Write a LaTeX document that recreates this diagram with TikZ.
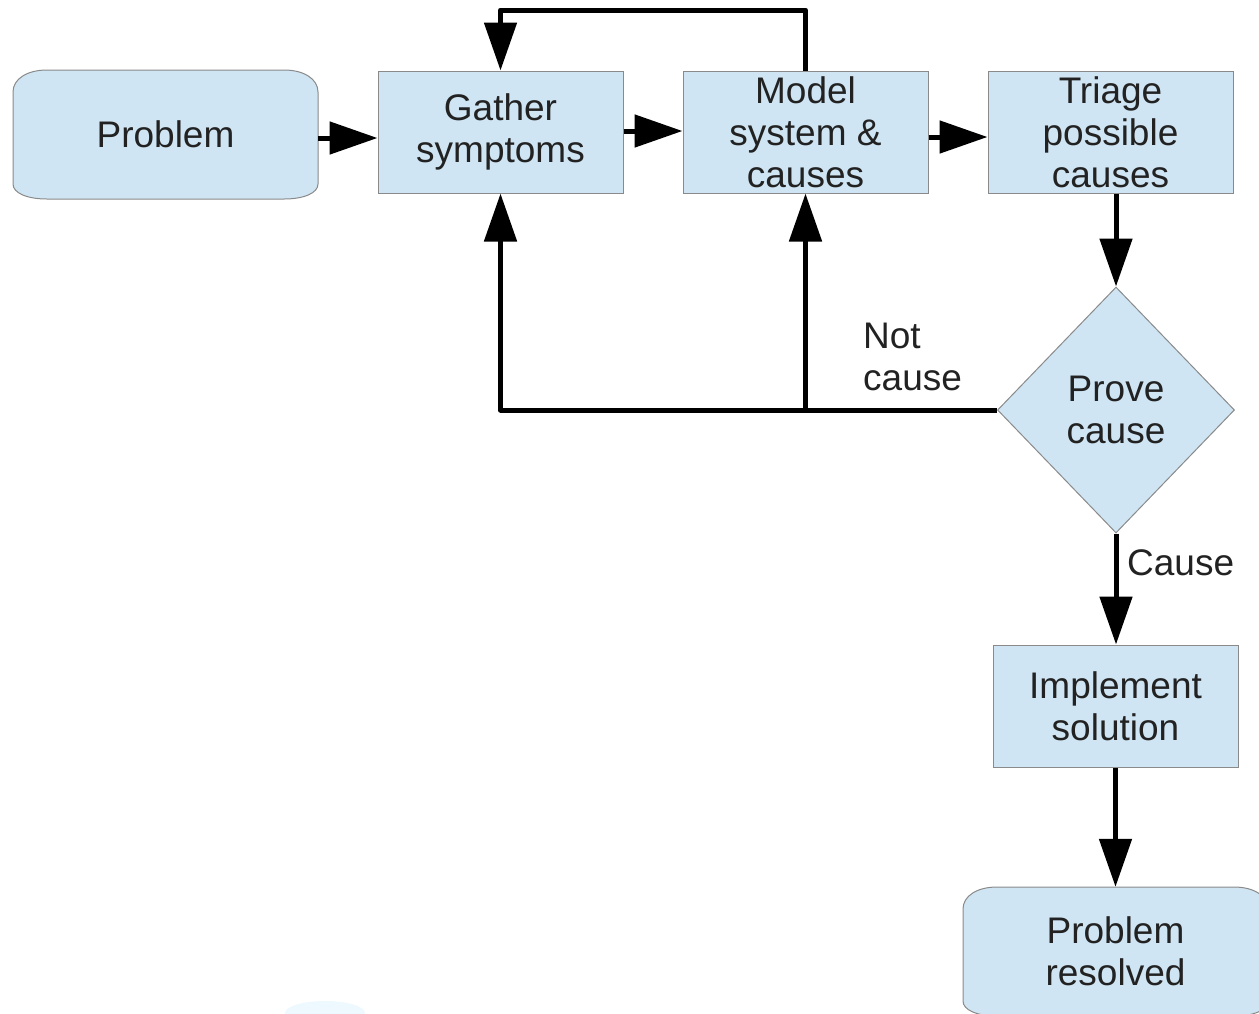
\documentclass[tikz,border=0pt]{standalone}
\usepackage{fontspec}
\setmainfont{Liberation Sans}
\usetikzlibrary{arrows.meta,shapes.geometric,backgrounds,calc}

\definecolor{boxfill}{HTML}{CFE5F3}
\definecolor{boxline}{HTML}{8A8A8A}
\definecolor{ink}{HTML}{222222}

% Terminator outline: x1, top y, x2, bottom y (pixel-style coordinates)
\newcommand\termoutline[4]{%
  \path[termfill] (#1+34,#2) -- (#3-34,#2)
    .. controls (#3-14,#2) and (#3,#2+9) .. (#3,#2+22)
    -- (#3,#4-15)
    .. controls (#3,#4-6) and (#3-14,#4) .. (#3-34,#4)
    -- (#1+34,#4)
    .. controls (#1+14,#4) and (#1,#4-6) .. (#1,#4-15)
    -- (#1,#2+22)
    .. controls (#1,#2+9) and (#1+14,#2) .. cycle;}

\tikzset{
  txt/.style={font=\fontsize{37pt}{42pt}\selectfont, text=ink, align=center},
  stepbox/.style={txt, rectangle, fill=boxfill, draw=boxline, line width=1pt,
    minimum width=245pt, minimum height=122pt, inner sep=0pt},
  termnode/.style={txt, rectangle, minimum width=305pt, minimum height=129pt, inner sep=0pt},
  termfill/.style={fill=boxfill, draw=boxline, line width=1pt},
  decision/.style={txt, diamond, fill=boxfill, draw=boxline, line width=1pt,
    minimum width=237pt, minimum height=246pt, inner sep=0pt},
  flow/.style={line width=5pt, line join=round, draw=black,
    -{Triangle[length=48pt,width=32pt]}},
  lbl/.style={txt, align=left, anchor=west, inner sep=0pt},
}

\begin{document}
\begin{tikzpicture}[x=1pt,y=-1pt]
\useasboundingbox (0,0) rectangle (1259,1013);
\clip (0,0) rectangle (1259,1013);

% faint blob near the bottom edge
\fill[cyan!7] (325,1013) ellipse [x radius=40, y radius=12];

% nodes
\node[termnode] (P) at (165.5,134.5) {Problem};
\node[stepbox] (G) at (500.5,132) {Gather\\symptoms};
\node[stepbox] (M) at (805.5,132) {Model\\system \&\\causes};
\node[stepbox] (T) at (1110.5,132) {Triage\\possible\\causes};
\node[decision] (D) at (1116,410) {Prove\\cause};
\node[stepbox] (I) at (1115.5,706) {Implement\\solution};
\node[termnode] (R) at (1115.5,951.5) {Problem\\resolved};

\begin{pgfonlayer}{background}
  \termoutline{13}{70}{318}{199}
  \termoutline{963}{887}{1268}{1016}
\end{pgfonlayer}

% labels
\node[lbl] (nc) at (863,357) {Not\\cause};
\node[lbl] (cs) at (1127,563) {Cause};

% connectors
\draw[flow] ([yshift=-3.5pt]P.east) -- (G.west |- 0,138);
\draw[flow] (G.east |- 0,131) -- (M.west |- 0,131);
\draw[flow] (M.east |- 0,137) -- (T.west |- 0,137);
\draw[flow] (M.north) -- (M.north |- 0,10) -| (G.north);
\draw[flow] (T.south -| D.north) -- (D.north);
\draw[flow] (D.west) -| (G.south);
\draw[flow] (M.south |- D.west) -- (M.south);
\draw[flow] (D.south) -- (I.north -| D.south);
\draw[flow] (I.south) -- (R.north);
\end{tikzpicture}
\end{document}
